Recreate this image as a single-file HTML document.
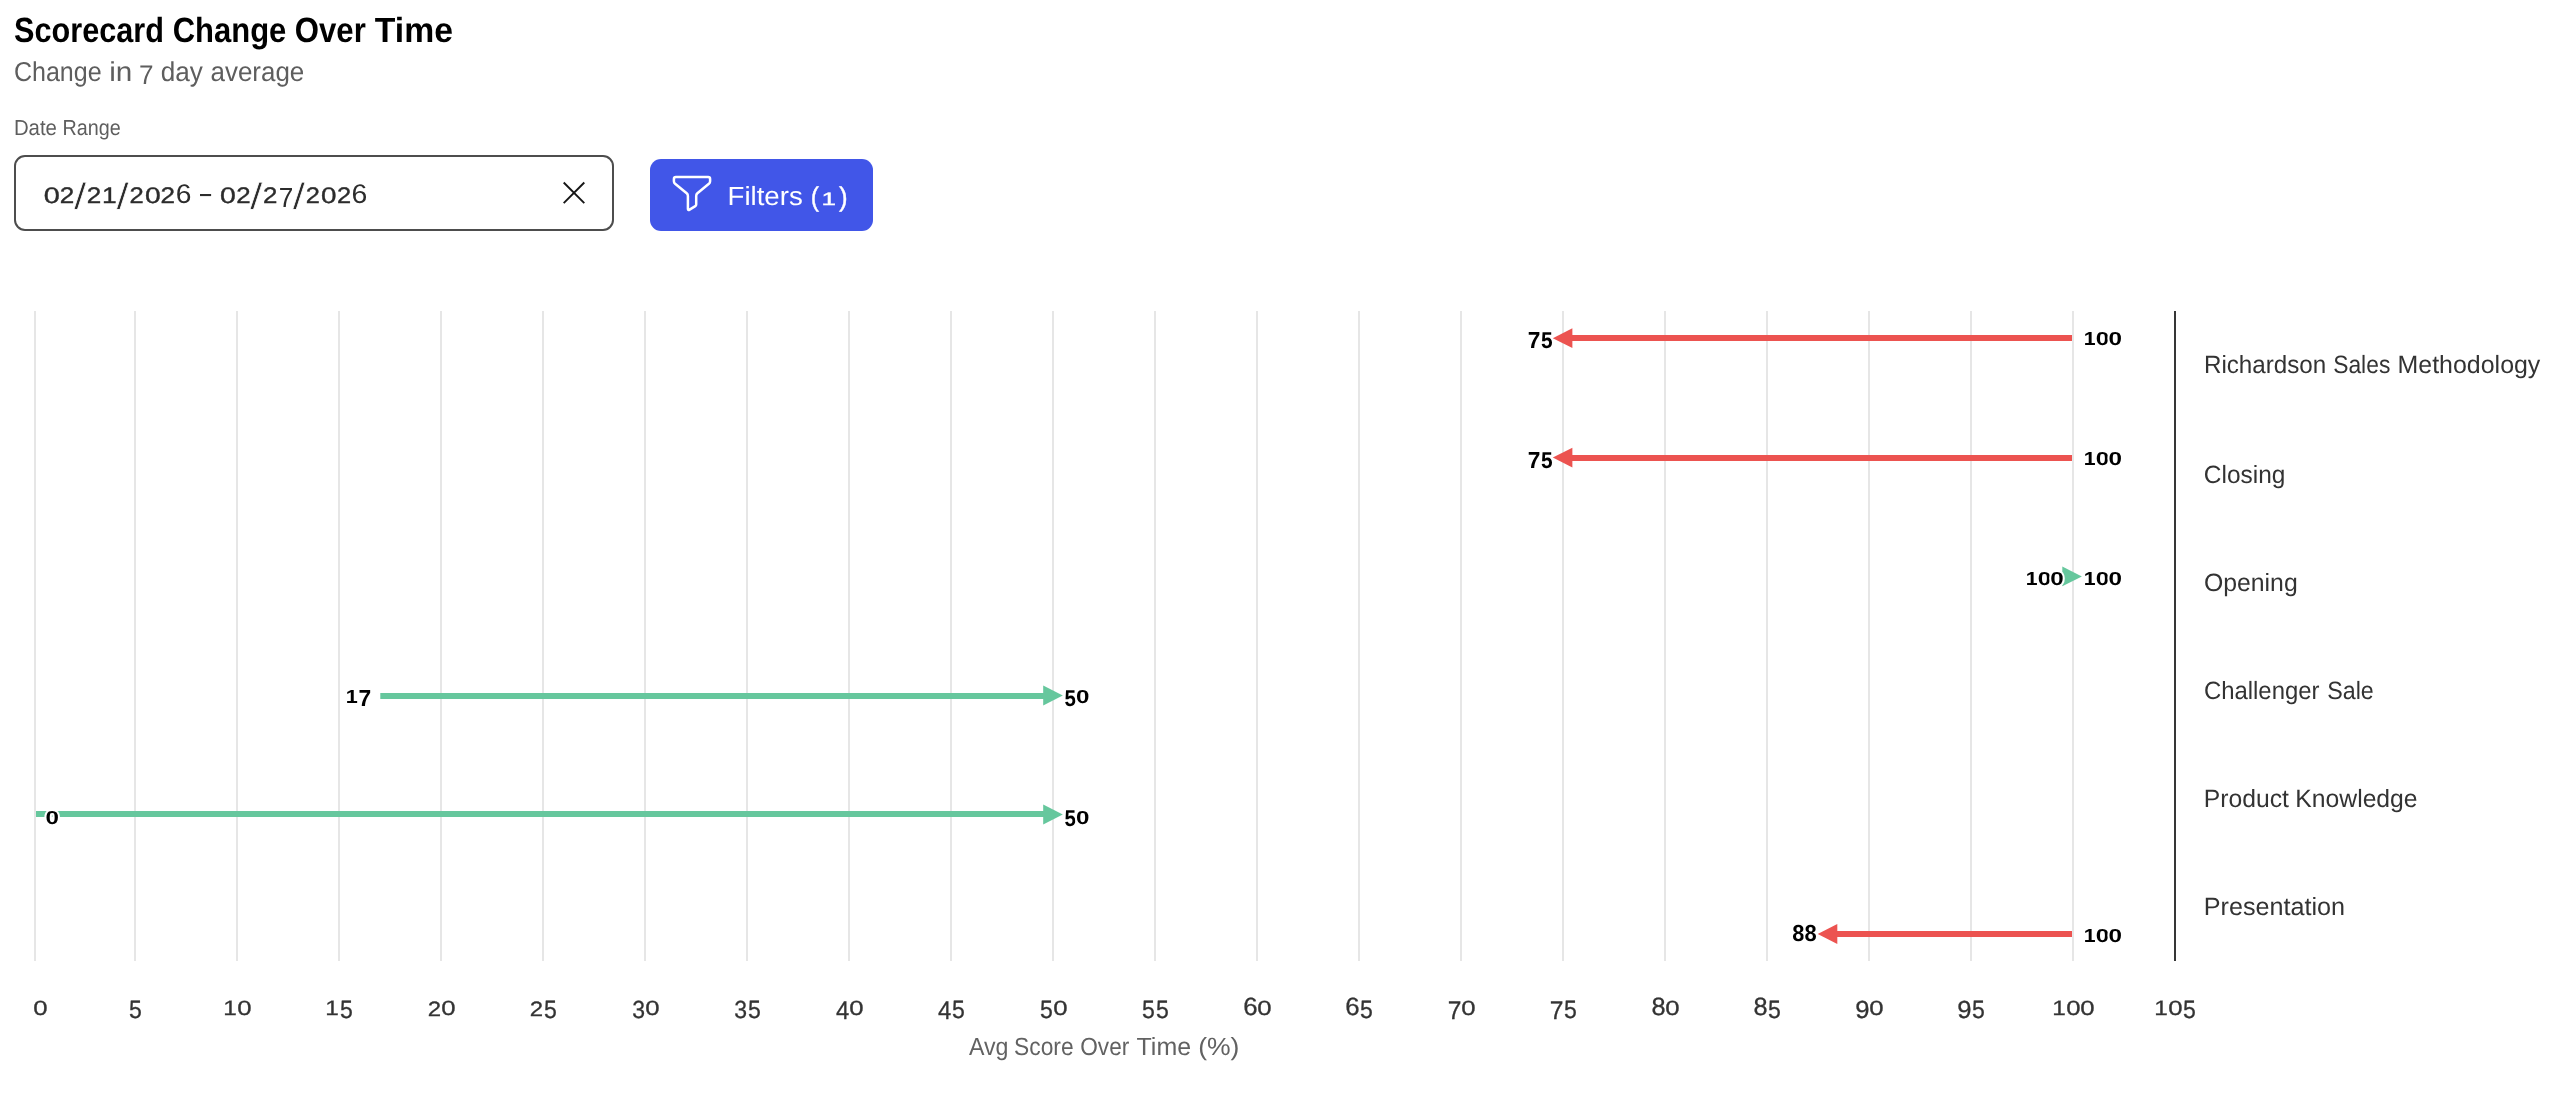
<!DOCTYPE html>
<html lang="en"><head><meta charset="utf-8"><title>Scorecard Change Over Time</title>
<style>html,body{margin:0;padding:0;background:#fff}svg{display:block;will-change:transform}</style></head>
<body>
<svg width="2572" height="1096" viewBox="0 0 2572 1096" font-family='"Liberation Sans", sans-serif' text-rendering="geometricPrecision">
<rect width="2572" height="1096" fill="#fff"/>
<text aria-label="Scorecard Change Over Time" font-weight="bold" fill="#000"><tspan x="14.07" y="41.80" font-size="35.00" textLength="149.85" lengthAdjust="spacingAndGlyphs">Scorecard</tspan><tspan font-size="35.0"> </tspan><tspan x="172.63" y="41.80" font-size="35.00" textLength="113.73" lengthAdjust="spacingAndGlyphs">Change</tspan><tspan font-size="35.0"> </tspan><tspan x="294.82" y="41.80" font-size="35.00" textLength="70.95" lengthAdjust="spacingAndGlyphs">Over</tspan><tspan font-size="35.0"> </tspan><tspan x="374.82" y="41.80" font-size="35.00" textLength="78.12" lengthAdjust="spacingAndGlyphs">Time</tspan></text>
<text aria-label="Change in 7 day average" fill="#5e5e5e"><tspan x="13.93" y="81.00" font-size="27.40" textLength="87.68" lengthAdjust="spacingAndGlyphs">Change</tspan><tspan font-size="27.4"> </tspan><tspan x="109.21" y="81.00" font-size="27.40" textLength="23.12" lengthAdjust="spacingAndGlyphs">in</tspan><tspan font-size="27.4"> </tspan><tspan x="139.06" y="84.30" font-size="27.04" textLength="14.56" lengthAdjust="spacingAndGlyphs">7</tspan><tspan font-size="27.4"> </tspan><tspan x="160.70" y="81.00" font-size="27.40" textLength="42.15" lengthAdjust="spacingAndGlyphs">day</tspan><tspan font-size="27.4"> </tspan><tspan x="210.50" y="81.00" font-size="27.40" textLength="93.75" lengthAdjust="spacingAndGlyphs">average</tspan></text>
<text aria-label="Date Range" font-weight="normal" fill="#5e5e5e"><tspan x="13.88" y="134.90" font-size="21.80" textLength="43.03" lengthAdjust="spacingAndGlyphs">Date</tspan><tspan font-size="21.8"> </tspan><tspan x="62.48" y="134.90" font-size="21.80" textLength="58.15" lengthAdjust="spacingAndGlyphs">Range</tspan></text>
<rect x="15" y="156" width="598" height="74" rx="10" ry="10" fill="#fff" stroke="#4d4d4d" stroke-width="2"/>
<text aria-label="02/21/2026 – 02/27/2026" fill="#2c2c2c"><tspan stroke="#2c2c2c" stroke-width="0.35" x="43.77" y="202.98" font-size="22.17" textLength="16.06" lengthAdjust="spacingAndGlyphs">0</tspan><tspan stroke="#2c2c2c" stroke-width="0.35" x="59.89" y="203.20" font-size="22.49" textLength="14.53" lengthAdjust="spacingAndGlyphs">2</tspan><tspan stroke="#fff" stroke-width="0.6" x="74.00" y="208.84" font-size="37.04" textLength="12.30" lengthAdjust="spacingAndGlyphs">/</tspan><tspan stroke="#2c2c2c" stroke-width="0.35" x="86.69" y="203.20" font-size="22.49" textLength="14.53" lengthAdjust="spacingAndGlyphs">2</tspan><tspan stroke="#2c2c2c" stroke-width="0.35" x="101.99" y="203.00" font-size="22.53" textLength="14.71" lengthAdjust="spacingAndGlyphs">1</tspan><tspan stroke="#fff" stroke-width="0.6" x="116.40" y="208.84" font-size="37.04" textLength="12.30" lengthAdjust="spacingAndGlyphs">/</tspan><tspan stroke="#2c2c2c" stroke-width="0.35" x="129.51" y="203.20" font-size="22.49" textLength="14.28" lengthAdjust="spacingAndGlyphs">2</tspan><tspan stroke="#2c2c2c" stroke-width="0.35" x="144.90" y="202.98" font-size="22.17" textLength="15.71" lengthAdjust="spacingAndGlyphs">0</tspan><tspan stroke="#2c2c2c" stroke-width="0.35" x="160.59" y="203.20" font-size="22.49" textLength="14.53" lengthAdjust="spacingAndGlyphs">2</tspan><tspan x="175.67" y="202.94" font-size="26.98" textLength="15.67" lengthAdjust="spacingAndGlyphs">6</tspan><tspan font-size="26"> </tspan><tspan x="200.00" y="203.21" font-size="31.39" textLength="11.11" lengthAdjust="spacingAndGlyphs">–</tspan><tspan font-size="26"> </tspan><tspan stroke="#2c2c2c" stroke-width="0.35" x="220.09" y="202.98" font-size="22.17" textLength="15.82" lengthAdjust="spacingAndGlyphs">0</tspan><tspan stroke="#2c2c2c" stroke-width="0.35" x="236.20" y="203.20" font-size="22.49" textLength="14.41" lengthAdjust="spacingAndGlyphs">2</tspan><tspan stroke="#fff" stroke-width="0.6" x="250.10" y="208.84" font-size="37.04" textLength="12.50" lengthAdjust="spacingAndGlyphs">/</tspan><tspan stroke="#2c2c2c" stroke-width="0.35" x="263.10" y="203.20" font-size="22.49" textLength="14.41" lengthAdjust="spacingAndGlyphs">2</tspan><tspan x="278.76" y="206.60" font-size="27.62" textLength="14.56" lengthAdjust="spacingAndGlyphs">7</tspan><tspan stroke="#fff" stroke-width="0.6" x="292.70" y="208.84" font-size="37.04" textLength="12.30" lengthAdjust="spacingAndGlyphs">/</tspan><tspan stroke="#2c2c2c" stroke-width="0.35" x="305.82" y="203.20" font-size="22.49" textLength="14.16" lengthAdjust="spacingAndGlyphs">2</tspan><tspan stroke="#2c2c2c" stroke-width="0.35" x="321.01" y="202.98" font-size="22.17" textLength="15.47" lengthAdjust="spacingAndGlyphs">0</tspan><tspan stroke="#2c2c2c" stroke-width="0.35" x="336.92" y="203.20" font-size="22.49" textLength="14.16" lengthAdjust="spacingAndGlyphs">2</tspan><tspan x="351.56" y="202.94" font-size="26.98" textLength="15.79" lengthAdjust="spacingAndGlyphs">6</tspan></text>
<path d="M563.7 182.5 L584.3 203.1 M584.3 182.5 L563.7 203.1" stroke="#161616" stroke-width="1.9" fill="none"/>
<rect x="650" y="159" width="223" height="72" rx="11" ry="11" fill="#4156e8"/>
<path d="M675.9 176.9 H708.1 Q710.1 176.9 710.1 178.9 V181.2 Q710.1 182.8 708.9 183.8 L697.4 193.3 Q696.2 194.3 696.2 195.9 V204.6 Q696.2 205.6 695.3 206.1 L689.6 209.6 Q687.9 210.6 687.9 208.7 V195.9 Q687.9 194.3 686.7 193.3 L675.1 183.8 Q673.9 182.8 673.9 181.2 V178.9 Q673.9 176.9 675.9 176.9 Z" fill="none" stroke="#fff" stroke-width="2.5" stroke-linejoin="round"/>
<text aria-label="Filters (1)" fill="#fff"><tspan x="727.54" y="205.00" font-size="26.30" textLength="75.16" lengthAdjust="spacingAndGlyphs">Filters</tspan><tspan font-size="26.3"> </tspan><tspan stroke="#fff" stroke-width="0.4"><tspan x="810.66" y="205.88" font-size="27.16" textLength="8.29" lengthAdjust="spacingAndGlyphs">(</tspan><tspan x="821.62" y="204.80" font-size="18.02" textLength="14.45" lengthAdjust="spacingAndGlyphs">1</tspan><tspan x="838.95" y="205.88" font-size="27.16" textLength="8.67" lengthAdjust="spacingAndGlyphs">)</tspan></tspan></text>
<rect x="34" y="311" width="2" height="650" fill="#e6e6e6"/>
<rect x="134" y="311" width="2" height="650" fill="#e6e6e6"/>
<rect x="236" y="311" width="2" height="650" fill="#e6e6e6"/>
<rect x="338" y="311" width="2" height="650" fill="#e6e6e6"/>
<rect x="440" y="311" width="2" height="650" fill="#e6e6e6"/>
<rect x="542" y="311" width="2" height="650" fill="#e6e6e6"/>
<rect x="644" y="311" width="2" height="650" fill="#e6e6e6"/>
<rect x="746" y="311" width="2" height="650" fill="#e6e6e6"/>
<rect x="848" y="311" width="2" height="650" fill="#e6e6e6"/>
<rect x="950" y="311" width="2" height="650" fill="#e6e6e6"/>
<rect x="1052" y="311" width="2" height="650" fill="#e6e6e6"/>
<rect x="1154" y="311" width="2" height="650" fill="#e6e6e6"/>
<rect x="1256" y="311" width="2" height="650" fill="#e6e6e6"/>
<rect x="1358" y="311" width="2" height="650" fill="#e6e6e6"/>
<rect x="1460" y="311" width="2" height="650" fill="#e6e6e6"/>
<rect x="1562" y="311" width="2" height="650" fill="#e6e6e6"/>
<rect x="1664" y="311" width="2" height="650" fill="#e6e6e6"/>
<rect x="1766" y="311" width="2" height="650" fill="#e6e6e6"/>
<rect x="1868" y="311" width="2" height="650" fill="#e6e6e6"/>
<rect x="1970" y="311" width="2" height="650" fill="#e6e6e6"/>
<rect x="2072" y="311" width="2" height="650" fill="#e6e6e6"/>
<rect x="2174" y="311" width="2" height="650" fill="#363636"/>
<rect x="1562.6" y="335" width="509.4" height="6" fill="#ec5350"/>
<path d="M1572.4 328.3 L1552.8 338.2 L1572.4 348.1 Z" fill="#ec5350"/>
<rect x="1562.6" y="455" width="509.4" height="6" fill="#ec5350"/>
<path d="M1572.4 447.7 L1552.8 457.6 L1572.4 467.5 Z" fill="#ec5350"/>
<path d="M2062.3 566.5 L2081.9 576.4 L2062.3 586.3 Z" fill="#66c79d"/>
<rect x="380.3" y="693" width="672.7" height="6" fill="#66c79d"/>
<path d="M1043.2 685.6 L1062.8 695.5 L1043.2 705.4 Z" fill="#66c79d"/>
<rect x="36.0" y="811" width="1017.0" height="6" fill="#66c79d"/>
<path d="M1043.2 804.6 L1062.8 814.5 L1043.2 824.4 Z" fill="#66c79d"/>
<rect x="1827.5" y="931" width="244.5" height="6" fill="#ec5350"/>
<path d="M1837.3 924.1 L1817.7 934.0 L1837.3 943.9 Z" fill="#ec5350"/>
<text aria-label="75" font-weight="bold" fill="#000" stroke="#fff" stroke-width="3.2" stroke-linejoin="round" paint-order="stroke"><tspan x="1527.82" y="348.20" font-size="23.11" textLength="12.62" lengthAdjust="spacingAndGlyphs">7</tspan><tspan x="1540.96" y="347.98" font-size="22.79" textLength="11.62" lengthAdjust="spacingAndGlyphs">5</tspan></text>
<text aria-label="100" font-weight="bold" fill="#000" stroke="#fff" stroke-width="3.2" stroke-linejoin="round" paint-order="stroke"><tspan x="2083.76" y="345.40" font-size="19.04" textLength="11.84" lengthAdjust="spacingAndGlyphs">1</tspan><tspan x="2095.86" y="345.42" font-size="18.79" textLength="13.49" lengthAdjust="spacingAndGlyphs">0</tspan><tspan x="2108.40" y="345.42" font-size="18.79" textLength="13.49" lengthAdjust="spacingAndGlyphs">0</tspan></text>
<text aria-label="75" font-weight="bold" fill="#000" stroke="#fff" stroke-width="3.2" stroke-linejoin="round" paint-order="stroke"><tspan x="1527.82" y="468.20" font-size="23.11" textLength="12.62" lengthAdjust="spacingAndGlyphs">7</tspan><tspan x="1540.96" y="467.98" font-size="22.79" textLength="11.62" lengthAdjust="spacingAndGlyphs">5</tspan></text>
<text aria-label="100" font-weight="bold" fill="#000" stroke="#fff" stroke-width="3.2" stroke-linejoin="round" paint-order="stroke"><tspan x="2083.76" y="465.40" font-size="19.04" textLength="11.84" lengthAdjust="spacingAndGlyphs">1</tspan><tspan x="2095.86" y="465.42" font-size="18.79" textLength="13.49" lengthAdjust="spacingAndGlyphs">0</tspan><tspan x="2108.40" y="465.42" font-size="18.79" textLength="13.49" lengthAdjust="spacingAndGlyphs">0</tspan></text>
<text aria-label="100" font-weight="bold" fill="#000" stroke="#fff" stroke-width="3.2" stroke-linejoin="round" paint-order="stroke"><tspan x="2025.76" y="585.40" font-size="19.04" textLength="11.81" lengthAdjust="spacingAndGlyphs">1</tspan><tspan x="2037.83" y="585.42" font-size="18.79" textLength="13.45" lengthAdjust="spacingAndGlyphs">0</tspan><tspan x="2050.34" y="585.42" font-size="18.79" textLength="13.45" lengthAdjust="spacingAndGlyphs">0</tspan></text>
<text aria-label="100" font-weight="bold" fill="#000" stroke="#fff" stroke-width="3.2" stroke-linejoin="round" paint-order="stroke"><tspan x="2083.76" y="585.40" font-size="19.04" textLength="11.84" lengthAdjust="spacingAndGlyphs">1</tspan><tspan x="2095.86" y="585.42" font-size="18.79" textLength="13.49" lengthAdjust="spacingAndGlyphs">0</tspan><tspan x="2108.40" y="585.42" font-size="18.79" textLength="13.49" lengthAdjust="spacingAndGlyphs">0</tspan></text>
<text aria-label="17" font-weight="bold" fill="#000" stroke="#fff" stroke-width="3.2" stroke-linejoin="round" paint-order="stroke"><tspan x="345.74" y="703.40" font-size="19.04" textLength="12.02" lengthAdjust="spacingAndGlyphs">1</tspan><tspan x="358.53" y="706.20" font-size="23.11" textLength="12.67" lengthAdjust="spacingAndGlyphs">7</tspan></text>
<text aria-label="50" font-weight="bold" fill="#000" stroke="#fff" stroke-width="3.2" stroke-linejoin="round" paint-order="stroke"><tspan x="1064.57" y="705.98" font-size="22.79" textLength="11.42" lengthAdjust="spacingAndGlyphs">5</tspan><tspan x="1076.08" y="703.42" font-size="18.79" textLength="13.41" lengthAdjust="spacingAndGlyphs">0</tspan></text>
<text aria-label="0" font-weight="bold" fill="#000" stroke="#fff" stroke-width="3.2" stroke-linejoin="round" paint-order="stroke"><tspan x="45.44" y="823.52" font-size="18.79" textLength="13.45" lengthAdjust="spacingAndGlyphs">0</tspan></text>
<text aria-label="50" font-weight="bold" fill="#000" stroke="#fff" stroke-width="3.2" stroke-linejoin="round" paint-order="stroke"><tspan x="1064.57" y="826.08" font-size="22.79" textLength="11.42" lengthAdjust="spacingAndGlyphs">5</tspan><tspan x="1076.08" y="823.52" font-size="18.79" textLength="13.41" lengthAdjust="spacingAndGlyphs">0</tspan></text>
<text aria-label="88" font-weight="bold" fill="#000" stroke="#fff" stroke-width="3.2" stroke-linejoin="round" paint-order="stroke"><tspan x="1792.30" y="941.47" font-size="23.16" textLength="12.20" lengthAdjust="spacingAndGlyphs">8</tspan><tspan x="1804.47" y="941.47" font-size="23.16" textLength="12.20" lengthAdjust="spacingAndGlyphs">8</tspan></text>
<text aria-label="100" font-weight="bold" fill="#000" stroke="#fff" stroke-width="3.2" stroke-linejoin="round" paint-order="stroke"><tspan x="2083.76" y="941.50" font-size="19.04" textLength="11.84" lengthAdjust="spacingAndGlyphs">1</tspan><tspan x="2095.86" y="941.52" font-size="18.79" textLength="13.49" lengthAdjust="spacingAndGlyphs">0</tspan><tspan x="2108.40" y="941.52" font-size="18.79" textLength="13.49" lengthAdjust="spacingAndGlyphs">0</tspan></text>
<text aria-label="Richardson Sales Methodology" font-weight="normal" fill="#333"><tspan x="2203.92" y="372.70" font-size="25.00" textLength="122.36" lengthAdjust="spacingAndGlyphs">Richardson</tspan><tspan font-size="25.0"> </tspan><tspan x="2333.16" y="372.70" font-size="25.00" textLength="57.16" lengthAdjust="spacingAndGlyphs">Sales</tspan><tspan font-size="25.0"> </tspan><tspan x="2397.55" y="372.70" font-size="25.00" textLength="142.79" lengthAdjust="spacingAndGlyphs">Methodology</tspan></text>
<text aria-label="Closing" font-weight="normal" fill="#333"><tspan x="2203.86" y="482.90" font-size="25.00" textLength="81.52" lengthAdjust="spacingAndGlyphs">Closing</tspan></text>
<text aria-label="Opening" font-weight="normal" fill="#333"><tspan x="2203.93" y="590.80" font-size="25.00" textLength="93.77" lengthAdjust="spacingAndGlyphs">Opening</tspan></text>
<text aria-label="Challenger Sale" font-weight="normal" fill="#333"><tspan x="2203.89" y="698.70" font-size="25.00" textLength="115.61" lengthAdjust="spacingAndGlyphs">Challenger</tspan><tspan font-size="25.0"> </tspan><tspan x="2327.24" y="698.70" font-size="25.00" textLength="46.59" lengthAdjust="spacingAndGlyphs">Sale</tspan></text>
<text aria-label="Product Knowledge" font-weight="normal" fill="#333"><tspan x="2203.77" y="807.00" font-size="25.00" textLength="85.11" lengthAdjust="spacingAndGlyphs">Product</tspan><tspan font-size="25.0"> </tspan><tspan x="2295.37" y="807.00" font-size="25.00" textLength="122.22" lengthAdjust="spacingAndGlyphs">Knowledge</tspan></text>
<text aria-label="Presentation" font-weight="normal" fill="#333"><tspan x="2203.73" y="915.10" font-size="25.00" textLength="141.40" lengthAdjust="spacingAndGlyphs">Presentation</tspan></text>
<text aria-label="0" font-weight="normal" fill="#333" stroke="#333" stroke-width="0.3"><tspan x="33.33" y="1015.30" font-size="20.48" textLength="14.33" lengthAdjust="spacingAndGlyphs">0</tspan></text>
<text aria-label="5" font-weight="normal" fill="#333" stroke="#333" stroke-width="0.3"><tspan x="129.12" y="1018.26" font-size="25.08" textLength="12.81" lengthAdjust="spacingAndGlyphs">5</tspan></text>
<text aria-label="10" font-weight="normal" fill="#333" stroke="#333" stroke-width="0.3"><tspan x="223.39" y="1015.30" font-size="20.79" textLength="13.54" lengthAdjust="spacingAndGlyphs">1</tspan><tspan x="237.33" y="1015.30" font-size="20.48" textLength="14.33" lengthAdjust="spacingAndGlyphs">0</tspan></text>
<text aria-label="15" font-weight="normal" fill="#333" stroke="#333" stroke-width="0.3"><tspan x="325.39" y="1015.30" font-size="20.79" textLength="13.54" lengthAdjust="spacingAndGlyphs">1</tspan><tspan x="340.12" y="1018.26" font-size="25.08" textLength="12.81" lengthAdjust="spacingAndGlyphs">5</tspan></text>
<text aria-label="20" font-weight="normal" fill="#333" stroke="#333" stroke-width="0.3"><tspan x="427.83" y="1015.50" font-size="20.77" textLength="13.33" lengthAdjust="spacingAndGlyphs">2</tspan><tspan x="441.33" y="1015.30" font-size="20.48" textLength="14.33" lengthAdjust="spacingAndGlyphs">0</tspan></text>
<text aria-label="25" font-weight="normal" fill="#333" stroke="#333" stroke-width="0.3"><tspan x="529.83" y="1015.50" font-size="20.77" textLength="13.33" lengthAdjust="spacingAndGlyphs">2</tspan><tspan x="544.12" y="1018.26" font-size="25.08" textLength="12.81" lengthAdjust="spacingAndGlyphs">5</tspan></text>
<text aria-label="30" font-weight="normal" fill="#333" stroke="#333" stroke-width="0.3"><tspan x="632.16" y="1018.26" font-size="24.72" textLength="12.81" lengthAdjust="spacingAndGlyphs">3</tspan><tspan x="645.33" y="1015.30" font-size="20.48" textLength="14.33" lengthAdjust="spacingAndGlyphs">0</tspan></text>
<text aria-label="35" font-weight="normal" fill="#333" stroke="#333" stroke-width="0.3"><tspan x="734.16" y="1018.26" font-size="24.72" textLength="12.81" lengthAdjust="spacingAndGlyphs">3</tspan><tspan x="748.12" y="1018.26" font-size="25.08" textLength="12.81" lengthAdjust="spacingAndGlyphs">5</tspan></text>
<text aria-label="40" font-weight="normal" fill="#333" stroke="#333" stroke-width="0.3"><tspan x="835.93" y="1018.50" font-size="25.44" textLength="13.29" lengthAdjust="spacingAndGlyphs">4</tspan><tspan x="849.33" y="1015.30" font-size="20.48" textLength="14.33" lengthAdjust="spacingAndGlyphs">0</tspan></text>
<text aria-label="45" font-weight="normal" fill="#333" stroke="#333" stroke-width="0.3"><tspan x="937.93" y="1018.50" font-size="25.44" textLength="13.29" lengthAdjust="spacingAndGlyphs">4</tspan><tspan x="952.12" y="1018.26" font-size="25.08" textLength="12.81" lengthAdjust="spacingAndGlyphs">5</tspan></text>
<text aria-label="50" font-weight="normal" fill="#333" stroke="#333" stroke-width="0.3"><tspan x="1040.12" y="1018.26" font-size="25.08" textLength="12.81" lengthAdjust="spacingAndGlyphs">5</tspan><tspan x="1053.33" y="1015.30" font-size="20.48" textLength="14.33" lengthAdjust="spacingAndGlyphs">0</tspan></text>
<text aria-label="55" font-weight="normal" fill="#333" stroke="#333" stroke-width="0.3"><tspan x="1142.12" y="1018.26" font-size="25.08" textLength="12.81" lengthAdjust="spacingAndGlyphs">5</tspan><tspan x="1156.12" y="1018.26" font-size="25.08" textLength="12.81" lengthAdjust="spacingAndGlyphs">5</tspan></text>
<text aria-label="60" font-weight="normal" fill="#333" stroke="#333" stroke-width="0.3"><tspan x="1243.24" y="1015.26" font-size="25.00" textLength="14.34" lengthAdjust="spacingAndGlyphs">6</tspan><tspan x="1257.33" y="1015.30" font-size="20.48" textLength="14.33" lengthAdjust="spacingAndGlyphs">0</tspan></text>
<text aria-label="65" font-weight="normal" fill="#333" stroke="#333" stroke-width="0.3"><tspan x="1345.24" y="1015.26" font-size="25.00" textLength="14.34" lengthAdjust="spacingAndGlyphs">6</tspan><tspan x="1360.12" y="1018.26" font-size="25.08" textLength="12.81" lengthAdjust="spacingAndGlyphs">5</tspan></text>
<text aria-label="70" font-weight="normal" fill="#333" stroke="#333" stroke-width="0.3"><tspan x="1447.64" y="1018.50" font-size="25.44" textLength="13.70" lengthAdjust="spacingAndGlyphs">7</tspan><tspan x="1461.33" y="1015.30" font-size="20.48" textLength="14.33" lengthAdjust="spacingAndGlyphs">0</tspan></text>
<text aria-label="75" font-weight="normal" fill="#333" stroke="#333" stroke-width="0.3"><tspan x="1549.64" y="1018.50" font-size="25.44" textLength="13.70" lengthAdjust="spacingAndGlyphs">7</tspan><tspan x="1564.12" y="1018.26" font-size="25.08" textLength="12.81" lengthAdjust="spacingAndGlyphs">5</tspan></text>
<text aria-label="80" font-weight="normal" fill="#333" stroke="#333" stroke-width="0.3"><tspan x="1651.45" y="1015.26" font-size="25.00" textLength="14.10" lengthAdjust="spacingAndGlyphs">8</tspan><tspan x="1665.33" y="1015.30" font-size="20.48" textLength="14.33" lengthAdjust="spacingAndGlyphs">0</tspan></text>
<text aria-label="85" font-weight="normal" fill="#333" stroke="#333" stroke-width="0.3"><tspan x="1753.45" y="1015.26" font-size="25.00" textLength="14.10" lengthAdjust="spacingAndGlyphs">8</tspan><tspan x="1768.12" y="1018.26" font-size="25.08" textLength="12.81" lengthAdjust="spacingAndGlyphs">5</tspan></text>
<text aria-label="90" font-weight="normal" fill="#333" stroke="#333" stroke-width="0.3"><tspan x="1855.34" y="1018.26" font-size="24.72" textLength="14.33" lengthAdjust="spacingAndGlyphs">9</tspan><tspan x="1869.33" y="1015.30" font-size="20.48" textLength="14.33" lengthAdjust="spacingAndGlyphs">0</tspan></text>
<text aria-label="95" font-weight="normal" fill="#333" stroke="#333" stroke-width="0.3"><tspan x="1957.34" y="1018.26" font-size="24.72" textLength="14.33" lengthAdjust="spacingAndGlyphs">9</tspan><tspan x="1972.12" y="1018.26" font-size="25.08" textLength="12.81" lengthAdjust="spacingAndGlyphs">5</tspan></text>
<text aria-label="100" font-weight="normal" fill="#333" stroke="#333" stroke-width="0.3"><tspan x="2052.39" y="1015.30" font-size="20.79" textLength="13.54" lengthAdjust="spacingAndGlyphs">1</tspan><tspan x="2066.33" y="1015.30" font-size="20.48" textLength="14.33" lengthAdjust="spacingAndGlyphs">0</tspan><tspan x="2080.33" y="1015.30" font-size="20.48" textLength="14.33" lengthAdjust="spacingAndGlyphs">0</tspan></text>
<text aria-label="105" font-weight="normal" fill="#333" stroke="#333" stroke-width="0.3"><tspan x="2154.39" y="1015.30" font-size="20.79" textLength="13.54" lengthAdjust="spacingAndGlyphs">1</tspan><tspan x="2168.33" y="1015.30" font-size="20.48" textLength="14.33" lengthAdjust="spacingAndGlyphs">0</tspan><tspan x="2183.12" y="1018.26" font-size="25.08" textLength="12.81" lengthAdjust="spacingAndGlyphs">5</tspan></text>
<text aria-label="Avg Score Over Time (%)" font-weight="normal" fill="#626262"><tspan x="968.96" y="1054.90" font-size="24.90" textLength="39.52" lengthAdjust="spacingAndGlyphs">Avg</tspan><tspan font-size="24.9"> </tspan><tspan x="1014.06" y="1054.90" font-size="24.90" textLength="59.55" lengthAdjust="spacingAndGlyphs">Score</tspan><tspan font-size="24.9"> </tspan><tspan x="1080.23" y="1054.90" font-size="24.90" textLength="49.05" lengthAdjust="spacingAndGlyphs">Over</tspan><tspan font-size="24.9"> </tspan><tspan x="1136.55" y="1054.90" font-size="24.90" textLength="54.54" lengthAdjust="spacingAndGlyphs">Time</tspan><tspan font-size="24.9"> </tspan><tspan x="1198.15" y="1054.90" font-size="24.90" textLength="41.29" lengthAdjust="spacingAndGlyphs">(%)</tspan></text>
</svg>
</body></html>
